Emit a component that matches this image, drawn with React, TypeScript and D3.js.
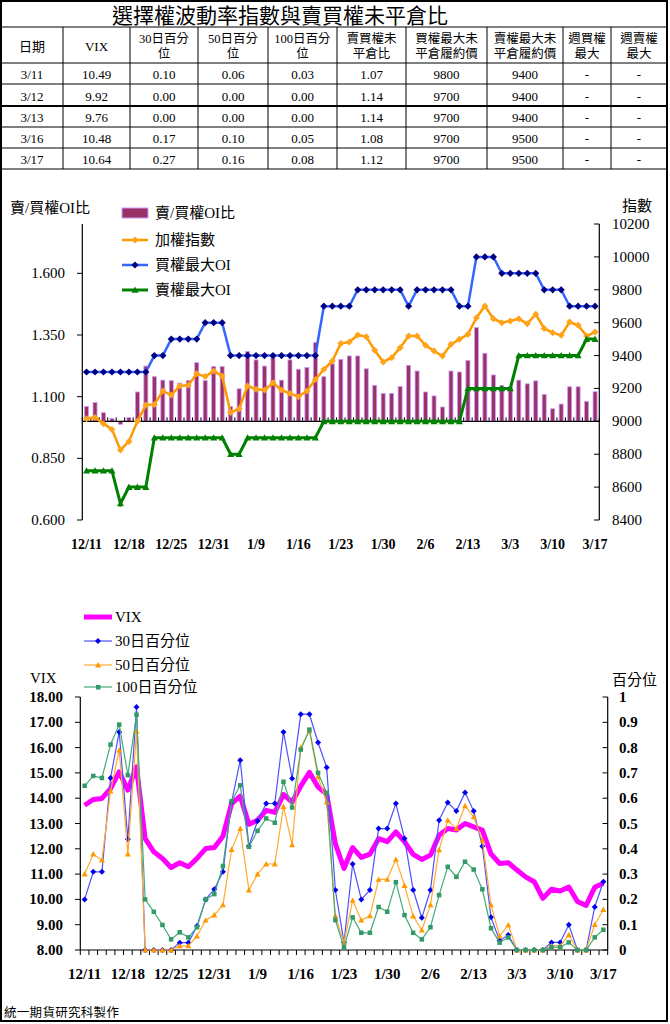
import React from 'react';
import * as d3 from 'd3';

// ---------- data ----------
const dates = ['12/11','12/12','12/15','12/16','12/17','12/18','12/19','12/22','12/23','12/24','12/25','12/26','12/27','12/29','12/30','12/31','1/5','1/6','1/7','1/8','1/9','1/12','1/13','1/14','1/15','1/16','1/19','1/20','1/21','1/22','1/23','1/26','1/27','1/28','1/29','1/30','2/2','2/3','2/4','2/5','2/6','2/9','2/10','2/11','2/12','2/13','2/24','2/25','2/26','3/2','3/3','3/4','3/5','3/6','3/9','3/10','3/11','3/12','3/13','3/16','3/17'];

const oiRatio = [1.060,1.076,1.035,1.011,0.988,1.015,1.119,1.224,1.181,1.167,1.165,1.155,1.165,1.238,1.165,1.222,1.222,1.06,1.132,1.283,1.249,1.224,1.265,1.167,1.249,1.211,1.218,1.319,1.181,1.233,1.251,1.265,1.265,1.213,1.146,1.113,1.113,1.141,1.227,1.204,1.119,1.103,1.058,1.204,1.200,1.247,1.380,1.276,1.188,1.145,1.14,1.167,1.152,1.164,1.109,1.051,1.07,1.14,1.14,1.08,1.12];

const taiex = [9016,9024,8986,8951,8826,8878,9000,9099,9103,9184,9160,9215,9219,9290,9272,9306,9275,9053,9077,9215,9195,9190,9235,9190,9170,9150,9185,9255,9316,9367,9474,9482,9525,9515,9432,9361,9387,9448,9519,9519,9462,9428,9397,9468,9499,9529,9630,9701,9624,9600,9610,9624,9594,9651,9565,9539,9523,9604,9584,9519,9543];

const callMaxOI = [9300,9300,9300,9300,9300,9300,9300,9300,9400,9400,9500,9500,9500,9500,9600,9600,9600,9400,9400,9400,9400,9400,9400,9400,9400,9400,9400,9400,9700,9700,9700,9700,9800,9800,9800,9800,9800,9800,9700,9800,9800,9800,9800,9800,9700,9700,10000,10000,10000,9900,9900,9900,9900,9900,9800,9800,9800,9700,9700,9700,9700];

const putMaxOI = [8700,8700,8700,8700,8500,8600,8600,8600,8900,8900,8900,8900,8900,8900,8900,8900,8900,8800,8800,8900,8900,8900,8900,8900,8900,8900,8900,8900,9000,9000,9000,9000,9000,9000,9000,9000,9000,9000,9000,9000,9000,9000,9000,9000,9000,9200,9200,9200,9200,9200,9200,9400,9400,9400,9400,9400,9400,9400,9400,9500,9500];

const vix = [13.72,13.95,13.99,14.38,15.04,14.32,15.24,12.4,11.88,11.62,11.26,11.45,11.29,11.62,12.01,12.05,12.5,13.79,14.08,12.97,13.13,13.52,13.44,14.15,13.84,14.48,15.02,14.44,14.16,12.2,11.22,12.05,11.66,11.79,12.4,12.28,12.67,12.28,11.78,11.58,11.75,12.54,12.8,12.74,13.0,12.87,12.74,11.8,11.42,11.45,11.16,10.89,10.7,10.04,10.4,10.33,10.49,9.92,9.76,10.48,10.64];

const pct30 = [0.2,0.309,0.309,0.68,0.862,0.438,0.96,0,0,0,0,0.029,0.029,0.095,0.2,0.24,0.309,0.585,0.75,0.41,0.51,0.579,0.579,0.862,0.678,0.932,0.932,0.82,0.721,0.237,0.03,0.34,0.2,0.237,0.48,0.48,0.579,0.441,0.237,0.127,0.237,0.513,0.583,0.549,0.623,0.549,0.41,0.129,0.037,0.059,0,0,0,0,0.03,0.03,0.10,0,0,0.17,0.27];

const pct50 = [0.3,0.379,0.355,0.628,0.79,0.379,0.865,0,0,0,0,0.016,0.016,0.055,0.118,0.138,0.178,0.397,0.48,0.237,0.3,0.34,0.34,0.567,0.416,0.8,0.866,0.684,0.585,0.135,0.03,0.196,0.118,0.135,0.279,0.279,0.358,0.255,0.134,0.079,0.178,0.396,0.513,0.48,0.57,0.526,0.434,0.178,0.055,0.099,0,0,0,0,0.016,0.016,0.06,0,0,0.10,0.16];

const pct100 = [0.649,0.688,0.68,0.812,0.891,0.691,0.93,0.2,0.151,0.099,0.042,0.07,0.05,0.09,0.2,0.221,0.332,0.588,0.651,0.408,0.471,0.52,0.503,0.665,0.563,0.792,0.871,0.7,0.621,0.118,0.011,0.129,0.068,0.068,0.17,0.151,0.268,0.138,0.068,0.042,0.09,0.217,0.329,0.289,0.349,0.318,0.24,0.086,0.029,0.05,0,0,0,0,0.011,0.011,0.03,0,0,0.05,0.08];

const topLeftTicks = [0.6, 0.85, 1.1, 1.35, 1.6];
const topRightTicks = [8400, 8600, 8800, 9000, 9200, 9400, 9600, 9800, 10000, 10200];
const botLeftTicks = [8, 9, 10, 11, 12, 13, 14, 15, 16, 17, 18];
const botRightTicks = [0, 0.1, 0.2, 0.3, 0.4, 0.5, 0.6, 0.7, 0.8, 0.9, 1];

// table
const tableTitle = '選擇權波動率指數與賣買權未平倉比';
const tableHeaders = [['日期'], ['VIX'], ['30日百分', '位'], ['50日百分', '位'], ['100日百分', '位'], ['賣買權未', '平倉比'], ['買權最大未', '平倉履約價'], ['賣權最大未', '平倉履約價'], ['週買權', '最大'], ['週賣權', '最大']];
const tDates = ['3/11', '3/12', '3/13', '3/16', '3/17'];
const tVix = ['10.49', '9.92', '9.76', '10.48', '10.64'];
const t30 = ['0.10', '0.00', '0.00', '0.17', '0.27'];
const t50 = ['0.06', '0.00', '0.00', '0.10', '0.16'];
const t100 = ['0.03', '0.00', '0.00', '0.05', '0.08'];
const tRatio = ['1.07', '1.14', '1.14', '1.08', '1.12'];
const tCall = ['9800', '9700', '9700', '9700', '9700'];
const tPut = ['9400', '9400', '9400', '9500', '9500'];
const tWCall = ['-', '-', '-', '-', '-'];
const tWPut = ['-', '-', '-', '-', '-'];

// ---------- styles ----------
const SERIF = "'Liberation Serif', 'Times New Roman', 'Noto Sans CJK TC', serif";
const CJK = "'Liberation Serif', 'Noto Sans CJK TC', sans-serif";

const diamond = (x: number, y: number, r: number) => `M${x},${y - r}L${x + r},${y}L${x},${y + r}L${x - r},${y}Z`;
const triangle = (x: number, y: number, r: number) => `M${x},${y - r}L${x + r},${y + r * 0.8}L${x - r},${y + r * 0.8}Z`;

export default function App() {
  // ---------- table layout ----------
  const colX = [1, 63, 130, 198, 268, 337, 406, 487, 563, 611, 667];
  const rowY = [27, 63, 84, 106, 127, 148, 169];
  const cols = [tDates, tVix, t30, t50, t100, tRatio, tCall, tPut, tWCall, tWPut];

  // ---------- top chart ----------
  const tx = d3.scaleBand<string>().domain(dates).range([82.3, 599.3]).padding(0);
  const bw = tx.bandwidth();
  const cx = (i: number) => (tx(dates[i]) as number) + bw / 2;
  const yL = d3.scaleLinear().domain([0.6, 1.8]).range([520, 224]);
  const yR = d3.scaleLinear().domain([8400, 10200]).range([520, 224]);
  const baseY = yL(1.0);
  const lineR = d3.line<number>().x((_, i) => cx(i)).y((d) => yR(d));

  // ---------- bottom chart ----------
  const bx = d3.scaleBand<string>().domain(dates).range([80.3, 607.7]).padding(0);
  const bbw = bx.bandwidth();
  const bcx = (i: number) => (bx(dates[i]) as number) + bbw / 2;
  const yV = d3.scaleLinear().domain([8, 18]).range([950, 697]);
  const yP = d3.scaleLinear().domain([0, 1]).range([950, 697]);
  const lineV = d3.line<number>().x((_, i) => bcx(i)).y((d) => yV(d));
  const lineP = d3.line<number>().x((_, i) => bcx(i)).y((d) => yP(d));

  return (
    <svg width={670} height={1024} style={{ position: 'absolute', left: 0, top: 0, background: '#fff' }}>
      <rect x={0} y={0} width={670} height={1024} fill="#fff" />
      {/* outer frame */}
      <rect x={1} y={1} width={666} height={1020} fill="none" stroke="#000" strokeWidth={2} />

      {/* ---------- table ---------- */}
      <text x={280} y={16} fontSize={21} fontFamily={CJK} textAnchor="middle" dominantBaseline="central" fill="#000">{tableTitle}</text>
      {rowY.map((y, i) => (
        <line key={'h' + i} x1={1} x2={667} y1={y} y2={y} stroke="#000" strokeWidth={i === 3 ? 2 : 1} />
      ))}
      {colX.slice(1, -1).map((x, i) => (
        <line key={'v' + i} x1={x} x2={x} y1={rowY[0]} y2={rowY[rowY.length - 1]} stroke="#000" strokeWidth={1} />
      ))}
      {tableHeaders.map((h, i) => {
        const cxm = (colX[i] + colX[i + 1]) / 2;
        if (h.length === 1) {
          return <text key={'th' + i} x={cxm} y={46} fontSize={13} fontFamily={CJK} textAnchor="middle" dominantBaseline="central">{h[0]}</text>;
        }
        return (
          <g key={'th' + i}>
            <text x={cxm} y={39} fontSize={12.5} fontFamily={CJK} textAnchor="middle" dominantBaseline="central">{h[0]}</text>
            <text x={cxm} y={54} fontSize={12.5} fontFamily={CJK} textAnchor="middle" dominantBaseline="central">{h[1]}</text>
          </g>
        );
      })}
      {cols.map((col, ci) =>
        col.map((v, ri) => (
          <text key={'td' + ci + '-' + ri} x={(colX[ci] + colX[ci + 1]) / 2} y={(rowY[ri + 1] + rowY[ri + 2]) / 2 + 1} fontSize={13} fontFamily={SERIF} textAnchor="middle" dominantBaseline="central">{v}</text>
        ))
      )}

      {/* ---------- top chart ---------- */}
      <text x={10} y={208} fontSize={15} fontFamily={CJK} dominantBaseline="central">賣/買權OI比</text>
      <text x={622} y={206} fontSize={15} fontFamily={CJK} dominantBaseline="central">指數</text>

      {/* bars */}
      {oiRatio.map((v, i) => {
        const x = cx(i);
        const y0 = yL(Math.max(v, 1));
        const y1 = yL(Math.min(v, 1));
        return <rect key={'b' + i} x={x - 2} y={y0} width={4} height={Math.max(0.5, y1 - y0)} fill="#993366" stroke="#CC99FF" strokeWidth={0.8} />;
      })}
      {/* category axis at 1.0 */}
      <line x1={82.3} x2={599.3} y1={baseY} y2={baseY} stroke="#000" strokeWidth={1.2} />
      {dates.map((d, i) => (
        <line key={'tt' + i} x1={tx(d) as number} x2={tx(d) as number} y1={baseY} y2={baseY - 4} stroke="#000" strokeWidth={1} />
      ))}
      <line x1={599.3} x2={599.3} y1={baseY} y2={baseY - 4} stroke="#000" />
      {/* left axis */}
      <line x1={82.3} x2={82.3} y1={224} y2={520} stroke="#000" strokeWidth={1.2} />
      {topLeftTicks.map((t) => (
        <g key={'tl' + t}>
          <line x1={77} x2={82.3} y1={yL(t)} y2={yL(t)} stroke="#000" />
          <text x={65} y={yL(t)} fontSize={15} fontFamily={SERIF} textAnchor="end" dominantBaseline="central">{t.toFixed(3)}</text>
        </g>
      ))}
      {/* right axis */}
      <line x1={599.3} x2={599.3} y1={224} y2={520} stroke="#000" strokeWidth={1.2} />
      {topRightTicks.map((t) => (
        <g key={'tr' + t}>
          <line x1={594} x2={599.3} y1={yR(t)} y2={yR(t)} stroke="#000" />
          <text x={612} y={yR(t)} fontSize={15} fontFamily={SERIF} dominantBaseline="central">{t}</text>
        </g>
      ))}
      {/* x labels */}
      {dates.map((d, i) => (i % 5 === 0 ? (
        <text key={'tx' + i} x={cx(i)} y={544} fontSize={14} fontWeight="bold" fontFamily={SERIF} textAnchor="middle" dominantBaseline="central">{d}</text>
      ) : null))}

      {/* orange index */}
      <path d={lineR(taiex) || ''} fill="none" stroke="#FF9900" strokeWidth={2.5} />
      {taiex.map((v, i) => <path key={'o' + i} d={diamond(cx(i), yR(v), 3.5)} fill="#FFA31A" />)}
      {/* blue call max OI */}
      <path d={lineR(callMaxOI) || ''} fill="none" stroke="#3366FF" strokeWidth={2.5} />
      {callMaxOI.map((v, i) => <path key={'c' + i} d={diamond(cx(i), yR(v), 3.6)} fill="#000080" />)}
      {/* green put max OI */}
      <path d={lineR(putMaxOI) || ''} fill="none" stroke="#008000" strokeWidth={3} />
      {putMaxOI.map((v, i) => <path key={'p' + i} d={triangle(cx(i), yR(v), 3.5)} fill="#008000" />)}

      {/* top legend */}
      <rect x={122} y={208} width={26} height={10} fill="#993366" stroke="#CC99FF" strokeWidth={1} />
      <text x={155} y={213} fontSize={15} fontFamily={CJK} dominantBaseline="central">賣/買權OI比</text>
      <line x1={122} x2={148} y1={240} y2={240} stroke="#FF9900" strokeWidth={2.5} />
      <path d={diamond(135, 240, 3.5)} fill="#FFA31A" />
      <text x={155} y={240} fontSize={15} fontFamily={CJK} dominantBaseline="central">加權指數</text>
      <line x1={122} x2={148} y1={265} y2={265} stroke="#3366FF" strokeWidth={2.5} />
      <path d={diamond(135, 265, 3.6)} fill="#000080" />
      <text x={155} y={265} fontSize={15} fontFamily={CJK} dominantBaseline="central">買權最大OI</text>
      <line x1={122} x2={148} y1={290} y2={290} stroke="#008000" strokeWidth={3} />
      <path d={triangle(135, 290, 3.5)} fill="#008000" />
      <text x={155} y={290} fontSize={15} fontFamily={CJK} dominantBaseline="central">賣權最大OI</text>

      {/* ---------- bottom chart ---------- */}
      <text x={30} y={678} fontSize={15} fontFamily={SERIF} dominantBaseline="central">VIX</text>
      <text x={612} y={680} fontSize={15} fontFamily={CJK} dominantBaseline="central">百分位</text>

      {/* legend */}
      <line x1={84} x2={112} y1={617} y2={617} stroke="#FF00FF" strokeWidth={5} />
      <text x={115} y={617} fontSize={15} fontFamily={SERIF} dominantBaseline="central">VIX</text>
      <line x1={84} x2={112} y1={641} y2={641} stroke="#5050FF" strokeWidth={1.2} />
      <path d={diamond(98, 641, 3)} fill="#0000EE" />
      <text x={115} y={641} fontSize={15} fontFamily={CJK} dominantBaseline="central">30日百分位</text>
      <line x1={84} x2={112} y1={665} y2={665} stroke="#FFAA33" strokeWidth={1.2} />
      <path d={triangle(98, 665, 3)} fill="#FF9900" />
      <text x={115} y={665} fontSize={15} fontFamily={CJK} dominantBaseline="central">50日百分位</text>
      <line x1={84} x2={112} y1={687} y2={687} stroke="#44AA77" strokeWidth={1.2} />
      <rect x={96} y={685} width={4.5} height={4.5} fill="#339966" />
      <text x={115} y={687} fontSize={15} fontFamily={CJK} dominantBaseline="central">100日百分位</text>

      {/* axes */}
      <line x1={80.3} x2={80.3} y1={697} y2={950} stroke="#000" strokeWidth={1.2} />
      {botLeftTicks.map((t) => (
        <g key={'bl' + t}>
          <line x1={75} x2={80.3} y1={yV(t)} y2={yV(t)} stroke="#000" />
          <text x={63} y={yV(t)} fontSize={15} fontWeight="bold" fontFamily={SERIF} textAnchor="end" dominantBaseline="central">{t.toFixed(2)}</text>
        </g>
      ))}
      <line x1={607.7} x2={607.7} y1={697} y2={950} stroke="#000" strokeWidth={1.2} />
      {botRightTicks.map((t) => (
        <g key={'br' + t}>
          <line x1={602.5} x2={607.7} y1={yP(t)} y2={yP(t)} stroke="#000" />
          <text x={619} y={yP(t)} fontSize={15} fontWeight="bold" fontFamily={SERIF} dominantBaseline="central">{String(t)}</text>
        </g>
      ))}
      <line x1={80.3} x2={607.7} y1={950} y2={950} stroke="#000" strokeWidth={1.2} />
      {dates.map((d, i) => (
        <line key={'bt' + i} x1={bx(d) as number} x2={bx(d) as number} y1={950} y2={955} stroke="#000" />
      ))}
      <line x1={607.7} x2={607.7} y1={950} y2={955} stroke="#000" />
      {dates.map((d, i) => (i % 5 === 0 ? (
        <text key={'bx' + i} x={bcx(i)} y={974} fontSize={15} fontWeight="bold" fontFamily={SERIF} textAnchor="middle" dominantBaseline="central">{d}</text>
      ) : null))}

      {/* series */}
      <path d={lineV(vix) || ''} fill="none" stroke="#FF00FF" strokeWidth={5} strokeLinejoin="round" />
      <path d={lineP(pct30) || ''} fill="none" stroke="#5050FF" strokeWidth={1.2} />
      {pct30.map((v, i) => <path key={'p30' + i} d={diamond(bcx(i), yP(v), 3)} fill="#0000EE" />)}
      <path d={lineP(pct50) || ''} fill="none" stroke="#FFAA33" strokeWidth={1.2} />
      {pct50.map((v, i) => <path key={'p50' + i} d={triangle(bcx(i), yP(v), 3)} fill="#FF9900" />)}
      <path d={lineP(pct100) || ''} fill="none" stroke="#44AA77" strokeWidth={1.2} />
      {pct100.map((v, i) => <rect key={'p100' + i} x={bcx(i) - 2.25} y={yP(v) - 2.25} width={4.5} height={4.5} fill="#339966" />)}

      {/* footnote */}
      <text x={4} y={1013} fontSize={12.5} fontFamily={CJK} dominantBaseline="central" letterSpacing={0.3}>統一期貨研究科製作</text>
    </svg>
  );
}
